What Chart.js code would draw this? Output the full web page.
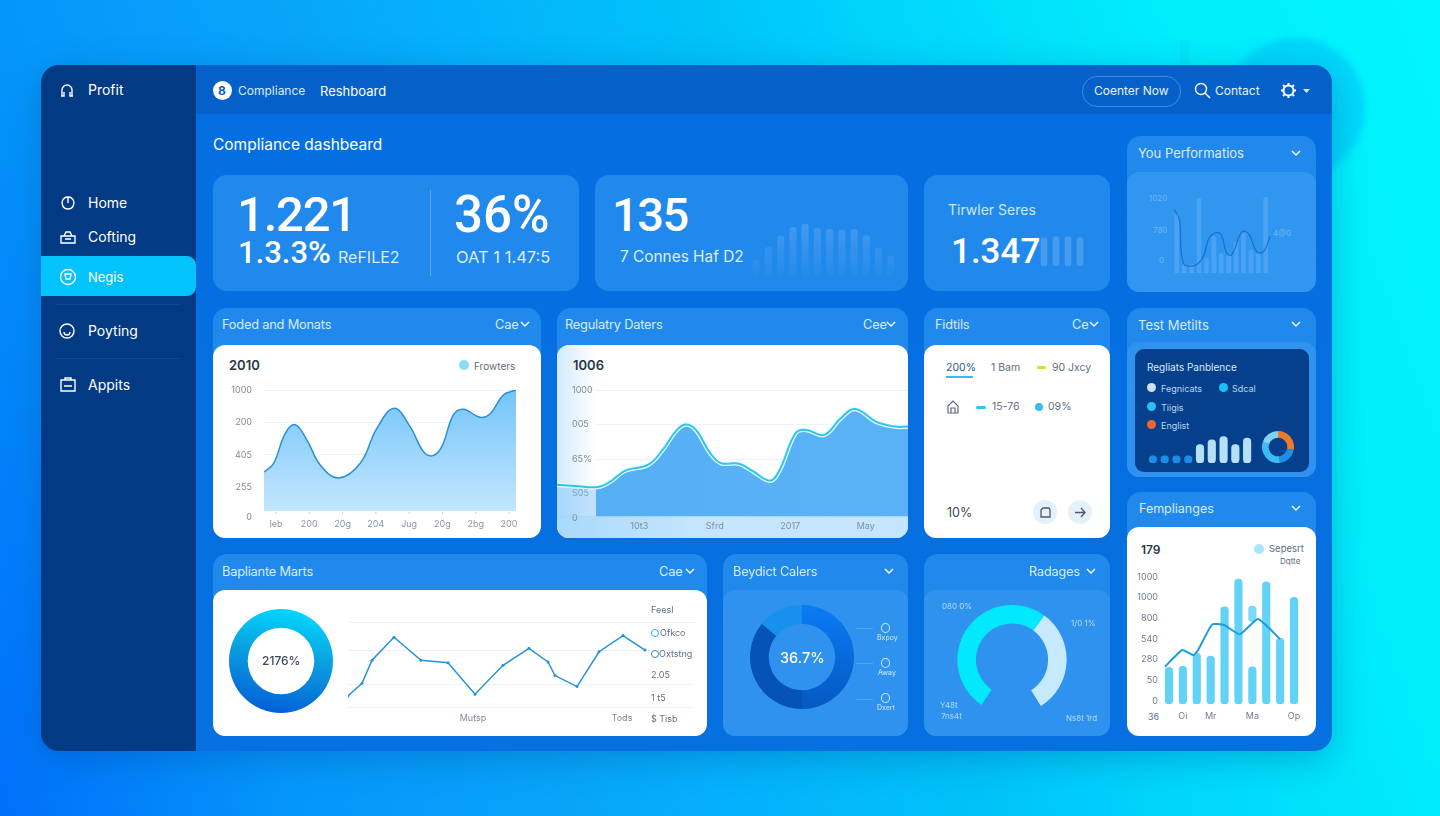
<!DOCTYPE html>
<html>
<head>
<meta charset="utf-8">
<title>Compliance dashboard</title>
<script src="https://cdn.jsdelivr.net/npm/chart.js@4/dist/chart.umd.min.js"></script>
<style>
html, body { margin: 0; padding: 0; width: 1440px; height: 816px; overflow: hidden; }
body {
    position: relative;
    font-family: "Inter", sans-serif;
    background: linear-gradient(70deg, #006ffa 0%, #0596fa 17%, #08a4fa 33%, #05b0fc 42%, #00c4f8 58%, #00d4fc 67%, #00ecfa 83%, #00f6fe 100%);
}
div, span, canvas, svg { position: absolute; }
canvas { display: block; }
.glow { left: 1225px; top: 38px; width: 140px; height: 140px; border-radius: 50%; background: rgba(0,190,250,.5); filter: blur(3px); }
.shadow { left: 41px; top: 65px; width: 1291px; height: 686px; border-radius: 18px; box-shadow: 0 8px 34px rgba(0,50,130,.28); }
.app { left: 41px; top: 65px; width: 1291px; height: 686px; border-radius: 18px; overflow: hidden; background: linear-gradient(180deg, #056fe2, #0670e0); }
.side { left: 0; top: 0; width: 155px; height: 686px; background: #033a84; }
.head { left: 155px; top: 0; width: 1136px; height: 49px; background: #0561c9; }
.active { left: 0; top: 191px; width: 155px; height: 40px; background: #02c3fb; border-radius: 0 9px 9px 0; }
.sep { left: 15px; width: 125px; height: 1px; background: rgba(255,255,255,.07); }
.panel { background: #2289ec; border-radius: 14px; }
.inner { background: #2e92ee; border-radius: 12px; }
.white { background: #fff; border-radius: 12px; overflow: hidden; }
.t { white-space: nowrap; transform: translateY(-50%); color: #fff; line-height: 1; }
.num { font-family: "Roboto", sans-serif; font-weight: 500; line-height: .85; }
.pt { font-size: 12.8px; color: #d8ecfd; letter-spacing: -.2px; }
.dk { color: #5f6f80; }
.tiny { font-size: 8px; color: #b5dcfa; }
.dot { border-radius: 50%; }
.ico { fill: none; stroke: #fff; stroke-width: 1.4; }
</style>
</head>
<body>
<div class="glow"></div>
<div style="left:1180px;top:40px;width:9px;height:26px;background:rgba(0,170,240,.12)"></div>
<div class="shadow"></div>
<div class="app">
    <div class="side"></div>
    <div class="head"></div>
    <div class="active"></div>
    <div class="sep" style="top:239px"></div>
    <div class="sep" style="top:293px"></div>
</div>

<!-- sidebar -->
<svg class="ico" style="left:60px;top:83px" width="14" height="15"><path d="M2 13V7a5 5 0 0 1 10 0v6M1 13h3v-4M13 13h-3v-4"/></svg>
<span class="t" style="left:88px;top:90px;font-size:14px">Profit</span>
<svg class="ico" style="left:60px;top:195px" width="16" height="16"><path d="M7.5 2a6 6 0 1 0 1 0zM8 2v6"/></svg>
<span class="t" style="left:88px;top:203px;font-size:14px">Home</span>
<svg class="ico" style="left:60px;top:229px" width="16" height="16"><path d="M1 7h14v7H1zM4 7l2-4h4l2 4M5 10h6"/></svg>
<span class="t" style="left:88px;top:237px;font-size:14px">Cofting</span>
<svg class="ico" style="left:59px;top:268px" width="18" height="18"><circle cx="9" cy="9" r="7.5"/><path d="M6 6h6l-1 5H7z"/></svg>
<span class="t" style="left:88px;top:277px;font-size:13px">Negis</span>
<svg class="ico" style="left:59px;top:323px" width="16" height="16"><circle cx="8" cy="8" r="7"/><path d="M5 9a3 3 0 0 0 6 0"/></svg>
<span class="t" style="left:88px;top:331px;font-size:14px">Poyting</span>
<svg class="ico" style="left:60px;top:377px" width="16" height="16"><path d="M1 3h14v11H1zM5 3V1h6v2M4 9h8"/></svg>
<span class="t" style="left:88px;top:385px;font-size:14px">Appits</span>

<!-- header -->
<div class="dot" style="left:213px;top:81px;width:19px;height:19px;background:#fff"></div>
<span class="t" style="left:218px;top:91px;font-size:12px;color:#0561c9;font-weight:700">8</span>
<span class="t" style="left:238px;top:91px;font-size:12px;color:#d8ecfd">Compliance</span>
<span class="t" style="left:320px;top:91px;font-size:13px">Reshboard</span>
<div style="left:1082px;top:76px;width:97px;height:29px;border:1px solid rgba(255,255,255,.25);border-radius:15px"></div>
<span class="t" style="left:1094px;top:91px;font-size:12px;color:#e6f3ff">Coenter Now</span>
<svg class="ico" style="left:1194px;top:82px" width="17" height="17"><circle cx="7" cy="7" r="5.5"/><path d="M11 11l5 5"/></svg>
<span class="t" style="left:1215px;top:91px;font-size:12px;color:#e6f3ff">Contact</span>
<svg class="ico" style="left:1281px;top:83px;stroke-width:2" width="15" height="15"><circle cx="7.5" cy="7.5" r="5"/><path d="M7.5 0v2M7.5 13v2M0 7.5h2M13 7.5h2M2 2l1.5 1.5M11.5 11.5L13 13M13 2l-1.5 1.5M3.500 11.500L2 13"/></svg>
<svg style="left:1303px;top:89px" width="7" height="4"><path d="M0 0h7L3.500 4z" fill="#d8ecfd"/></svg>

<span class="t" style="left:213px;top:145px;font-size:15.500px">Compliance dashbeard</span>

<!-- kpi row -->
<div class="panel" style="left:213px;top:175px;width:366px;height:116px"></div>
<div class="panel" style="left:595px;top:175px;width:313px;height:116px"></div>
<div class="panel" style="left:924px;top:175px;width:186px;height:116px"></div>
<span class="t num" style="left:237px;top:215px;font-size:49px;letter-spacing:-1.2px">1.221</span>
<span class="t num" style="left:238px;top:253px;font-size:31px">1.3.3%</span>
<span class="t" style="left:338px;top:257px;font-size:16px;color:#dceefd">ReFILE2</span>
<div style="left:430px;top:190px;width:1px;height:86px;background:rgba(255,255,255,.25)"></div>
<span class="t num" style="left:454px;top:215px;font-size:51px">36%</span>
<span class="t" style="left:456px;top:257px;font-size:16.500px;color:#dceefd">OAT 1 1.47:5</span>
<span class="t num" style="left:612px;top:215px;font-size:47px;letter-spacing:-1.5px">135</span>
<span class="t" style="left:620px;top:257px;font-size:15.400px;color:#dceefd">7 Connes Haf D2</span>
<canvas id="kpiBars" style="left:750px;top:222px"></canvas>
<span class="t" style="left:948px;top:210px;font-size:14px;color:#cfe6fc">Tirwler Seres</span>
<span class="t num" style="left:951px;top:252px;font-size:35px">1.347</span>
<canvas id="kpiBarsSmall" style="left:1038px;top:236px"></canvas>

<!-- area panels -->
<div class="panel" style="left:213px;top:308px;width:328px;height:230px"></div>
<span class="t pt" style="left:222px;top:325px">Foded and Monats</span>
<span class="t pt" style="left:495px;top:325px">Cae</span>
<svg class="ico" style="left:520px;top:321px" width="10" height="7"><path d="M1 1l4 4 4-4"/></svg>
<div class="white" style="left:213px;top:345px;width:328px;height:193px"></div>
<span class="t" style="left:229px;top:365px;font-size:13px;font-weight:600;color:#2b3648">2010</span>
<div class="dot" style="left:459px;top:360px;width:10px;height:10px;background:#8ddafb"></div>
<span class="t dk" style="left:474px;top:366px;font-size:10px">Frowters</span>
<canvas id="areaChart" style="left:225px;top:380px"></canvas>

<div class="panel" style="left:557px;top:308px;width:351px;height:230px"></div>
<span class="t pt" style="left:565px;top:325px">Regulatry Daters</span>
<span class="t pt" style="left:863px;top:325px">Cee</span>
<svg class="ico" style="left:886px;top:321px" width="10" height="7"><path d="M1 1l4 4 4-4"/></svg>
<div class="white" style="left:557px;top:345px;width:351px;height:193px">
    <div style="left:0;top:0;width:39px;height:193px;background:linear-gradient(90deg,rgba(196,228,252,.75),rgba(255,255,255,0))"></div>
    <div style="left:0;top:171px;width:351px;height:22px;background:linear-gradient(90deg,#a9d9fb,#c4e5fd 40%)"></div>
</div>
<span class="t" style="left:573px;top:365px;font-size:13px;font-weight:600;color:#2b3648">1006</span>
<canvas id="regChart" style="left:557px;top:380px"></canvas>

<!-- fidtils -->
<div class="panel" style="left:924px;top:308px;width:186px;height:230px"></div>
<span class="t pt" style="left:935px;top:325px">Fidtils</span>
<span class="t pt" style="left:1072px;top:325px">Ce</span>
<svg class="ico" style="left:1089px;top:321px" width="10" height="7"><path d="M1 1l4 4 4-4"/></svg>
<div class="white" style="left:924px;top:345px;width:186px;height:193px"></div>
<span class="t" style="left:946px;top:368px;font-size:10.500px;color:#2a5a8a">200%</span>
<div style="left:946px;top:376px;width:27px;height:1.500px;background:#35bdf0"></div>
<span class="t dk" style="left:991px;top:368px;font-size:10.500px">1 Bam</span>
<div style="left:1037px;top:366px;width:9px;height:3px;border-radius:2px;background:#c4e820"></div>
<span class="t dk" style="left:1052px;top:368px;font-size:10.500px">90 Jxcy</span>
<svg style="left:947px;top:400px;fill:none;stroke:#5a6b7d;stroke-width:1.200" width="12" height="14"><path d="M1 13V6l5-5 5 5v7zM4 13V8h4v5"/></svg>
<div style="left:976px;top:406px;width:10px;height:3px;border-radius:2px;background:#2cc6f4"></div>
<span class="t dk" style="left:992px;top:407px;font-size:10.500px">15-76</span>
<div class="dot" style="left:1035px;top:403px;width:8px;height:8px;background:#3abcf0"></div>
<span class="t dk" style="left:1048px;top:407px;font-size:10.500px">09%</span>
<span class="t" style="left:947px;top:513px;font-size:12.500px;color:#3a4758">10%</span>
<div class="dot" style="left:1033px;top:500px;width:24px;height:24px;background:#e4f0fb"></div>
<svg style="left:1040px;top:507px;fill:none;stroke:#4a5a6e;stroke-width:1.300" width="11" height="11"><path d="M3 1h6l1 2v7H1V3z"/></svg>
<div class="dot" style="left:1068px;top:500px;width:24px;height:24px;background:#e4f0fb"></div>
<svg style="left:1074px;top:507px;fill:none;stroke:#4a5a6e;stroke-width:1.300" width="12" height="11"><path d="M1 5.500h10M7 1l4 4.500L7 10"/></svg>

<!-- right column -->
<div class="panel" style="left:1127px;top:136px;width:189px;height:156px"></div>
<span class="t" style="left:1138px;top:153px;font-size:13px;color:#d8ecfd">You Performatios</span>
<svg class="ico" style="left:1291px;top:150px" width="10" height="7"><path d="M1 1l4 4 4-4"/></svg>
<div class="inner" style="left:1127px;top:172px;width:189px;height:120px;background:#3096f0"></div>
<span class="t" style="left:1149px;top:198px;font-size:8px;color:#6ab8f5">1020</span>
<span class="t" style="left:1153px;top:230px;font-size:8px;color:#6ab8f5">780</span>
<span class="t" style="left:1159px;top:260px;font-size:8px;color:#6ab8f5">0</span>
<span class="t" style="left:1273px;top:233px;font-size:8px;color:#6ab8f5">4@0</span>
<canvas id="perfChart" style="left:1173px;top:197px"></canvas>

<div class="panel" style="left:1127px;top:308px;width:189px;height:169px"></div>
<span class="t" style="left:1138px;top:325px;font-size:13px;color:#d8ecfd">Test Metilts</span>
<svg class="ico" style="left:1291px;top:321px" width="10" height="7"><path d="M1 1l4 4 4-4"/></svg>
<div class="inner" style="left:1127px;top:342px;width:189px;height:135px"></div>
<div style="left:1135px;top:349px;width:174px;height:123px;background:#063f8c;border-radius:9px"></div>
<span class="t" style="left:1147px;top:367px;font-size:10px;color:#d8ecfd">Regliats Panblence</span>
<div class="dot" style="left:1147px;top:383px;width:9px;height:9px;background:#cfe0ee"></div>
<span class="t" style="left:1161px;top:388px;font-size:9px;color:#b8d8f2">Fegnicats</span>
<div class="dot" style="left:1219px;top:383px;width:9px;height:9px;background:#1cc0f8"></div>
<span class="t" style="left:1232px;top:388px;font-size:9px;color:#b8d8f2">Sdcal</span>
<div class="dot" style="left:1147px;top:402px;width:9px;height:9px;background:#2cc0f5"></div>
<span class="t" style="left:1161px;top:407px;font-size:9px;color:#b8d8f2">Tiigis</span>
<div class="dot" style="left:1147px;top:420px;width:9px;height:9px;background:#f06432"></div>
<span class="t" style="left:1161px;top:425px;font-size:9px;color:#b8d8f2">Englist</span>
<canvas id="metricBars" style="left:1147px;top:436px"></canvas>
<canvas id="metricDonut" style="left:1262px;top:431px"></canvas>

<div class="panel" style="left:1127px;top:492px;width:189px;height:244px"></div>
<span class="t" style="left:1139px;top:509px;font-size:12.500px;color:#d8ecfd">Femplianges</span>
<svg class="ico" style="left:1291px;top:505px" width="10" height="7"><path d="M1 1l4 4 4-4"/></svg>
<div class="white" style="left:1127px;top:527px;width:189px;height:209px"></div>
<span class="t" style="left:1141px;top:550px;font-size:12px;font-weight:600;color:#2b3648">179</span>
<div class="dot" style="left:1254px;top:544px;width:10px;height:10px;background:#a8e4fb"></div>
<span class="t dk" style="left:1269px;top:549px;font-size:9.500px">Sepesrt</span>
<span class="t dk" style="left:1280px;top:561px;font-size:8px">Dqtte</span>
<span class="t dk" style="left:1148px;top:716px;font-size:9px">36</span>
<canvas id="barLine" style="left:1135px;top:570px"></canvas>

<!-- bottom row -->
<div class="panel" style="left:213px;top:554px;width:494px;height:182px"></div>
<span class="t pt" style="left:222px;top:572px">Bapliante Marts</span>
<span class="t pt" style="left:659px;top:572px">Cae</span>
<svg class="ico" style="left:685px;top:568px" width="10" height="7"><path d="M1 1l4 4 4-4"/></svg>
<div class="white" style="left:213px;top:590px;width:494px;height:146px"></div>
<canvas id="shareDonut" style="left:229px;top:609px"></canvas>
<span class="t" style="left:262px;top:661px;font-size:12px;font-weight:500;color:#3a4a5e">2176%</span>
<canvas id="trendLine" style="left:348px;top:612px"></canvas>
<span class="t dk" style="left:651px;top:609px;font-size:9px">Feesl</span>
<div class="dot" style="left:651px;top:629px;width:6px;height:6px;border:1.200px solid #38aef0"></div>
<span class="t dk" style="left:660px;top:632px;font-size:9px">Ofkco</span>
<div class="dot" style="left:651px;top:650px;width:6px;height:6px;border:1.200px solid #3a86b8"></div>
<span class="t dk" style="left:659px;top:653px;font-size:9px">Oxtstng</span>
<span class="t dk" style="left:651px;top:674px;font-size:9px">2.05</span>
<span class="t dk" style="left:651px;top:697px;font-size:9px">1 t5</span>
<span class="t dk" style="left:651px;top:718px;font-size:9px">$ Tisb</span>

<div class="panel" style="left:723px;top:554px;width:185px;height:182px"></div>
<span class="t pt" style="left:733px;top:572px">Beydict Calers</span>
<svg class="ico" style="left:884px;top:568px" width="10" height="7"><path d="M1 1l4 4 4-4"/></svg>
<div class="inner" style="left:723px;top:590px;width:185px;height:146px"></div>
<canvas id="caseDonut" style="left:750px;top:605px"></canvas>
<span class="t" style="left:780px;top:658px;font-size:14.500px;font-weight:500">36.7%</span>
<div style="left:856px;top:628px;width:17px;height:1px;background:rgba(255,255,255,.18)"></div>
<div style="left:856px;top:663px;width:17px;height:1px;background:rgba(255,255,255,.18)"></div>
<div style="left:856px;top:699px;width:17px;height:1px;background:rgba(255,255,255,.18)"></div>
<div class="dot" style="left:881px;top:623px;width:7px;height:8px;border:1px solid #d4ecfd"></div>
<span class="t tiny" style="left:877px;top:637px;font-size:7px;color:#d4ecfd">Bxpoy</span>
<div class="dot" style="left:881px;top:658px;width:7px;height:8px;border:1px solid #d4ecfd"></div>
<span class="t tiny" style="left:878px;top:672px;font-size:7px;color:#d4ecfd">Away</span>
<div class="dot" style="left:881px;top:693px;width:7px;height:8px;border:1px solid #d4ecfd"></div>
<span class="t tiny" style="left:877px;top:707px;font-size:7px;color:#d4ecfd">Dxert</span>

<div class="panel" style="left:924px;top:554px;width:186px;height:182px"></div>
<span class="t pt" style="left:1029px;top:572px">Radages</span>
<svg class="ico" style="left:1086px;top:568px" width="10" height="7"><path d="M1 1l4 4 4-4"/></svg>
<div class="inner" style="left:924px;top:590px;width:186px;height:146px"></div>
<canvas id="gaugeChart" style="left:957px;top:605px"></canvas>
<span class="t tiny" style="left:942px;top:606px">080 0%</span>
<span class="t tiny" style="left:1071px;top:623px">1/0 1%</span>
<span class="t tiny" style="left:940px;top:705px">Y48t</span>
<span class="t tiny" style="left:941px;top:716px">7ns4t</span>
<span class="t tiny" style="left:1066px;top:718px">Ns8t 1rd</span>

<script>
// values
var kpiBarValues = [48, 86, 120, 146, 156, 143, 140, 138, 140, 121, 83, 60];
var kpiSmallValues = [85, 88, 88, 85];

var areaLabels = ["Ieb", "200", "20g", "204", "Jug", "20g", "2bg", "200"];
var areaTickValues = [23, 250, 500, 750, 1000];
var areaTickLabels = ["0", "255", "405", "200", "1000"];
var areaX = [-0.36, -0.07, 0.28, 0.58, 0.93, 1.33, 1.88, 2.53, 3.03, 3.55, 4.03, 4.43, 4.71, 4.98, 5.33, 5.63, 6.13, 6.43, 6.83, 7.21];
var areaY = [369, 436, 667, 733, 615, 423, 323, 436, 705, 859, 718, 526, 495, 564, 808, 851, 790, 815, 962, 1000];

var regLabels = ["10t3", "Sfrd", "2017", "May"];
var regTickValues = [70, 250, 500, 750, 1000];
var regTickLabels = ["0", "S05", "65%", "005", "1000"];
var regX = [-1.09, -0.84, -0.55, -0.38, -0.19, 0.12, 0.31, 0.48, 0.61, 0.75, 0.94, 1.08, 1.32, 1.51, 1.73, 1.85, 2.07, 2.21, 2.45, 2.67, 2.86, 3.15, 3.39, 3.56];
var regY = [312, 302, 295, 336, 413, 457, 565, 698, 749, 710, 541, 469, 464, 408, 341, 408, 686, 710, 674, 795, 862, 766, 734, 734];

var perfBars = [78, 11, 11, 98, 20, 48, 26, 24, 41, 52, 30, 26, 100];
var perfLineX = [-0.31, 0.36, 0.9, 2.47, 3.6, 4.49, 5.84, 6.74, 7.42, 8.76, 9.66, 10.79, 11.69, 12.58];
var perfLineY = [83, 70, 13, 10, 22, 48, 52, 26, 24, 54, 52, 28, 28, 48];

var metricBarValues = [22, 22, 22, 22, 56, 70, 80, 56, 76];
var metricDonutValues = [28, 20, 32, 20];

var barValues = [355, 365, 490, 465, 942, 1210, 361, 1183, 635, 1032];
var barFragmentIndex = 6;
var barFragment = [797, 948];
var barTickValues = [30, 230, 430, 630, 830, 1030, 1230];
var barTickLabels = ["0", "50", "280", "540", "800", "1000", "1000"];
var barXLabels = { 1: "Oi", 3: "Mr", 6: "Ma", 9: "Op" };
var barLineX = [-0.29, 0.96, 1.75, 2.1, 3.11, 3.97, 5.1, 6.41, 7.99];
var barLineY = [361, 523, 474, 523, 771, 765, 674, 823, 629];

var trendX = [0, 14, 24, 46, 73, 100, 127, 155, 181, 200, 207, 229, 251, 275, 297];
var trendY = [13, 28, 55, 82, 55, 52, 15, 49, 69, 53, 37, 24, 65, 84, 67];
var trendGrid = [0, 27, 67, 100];
var trendTicks = [125, 274];
var trendLabels = ["Mutsp", "Tods"];

var shareValues = [100];
var caseValues = [50, 36, 14];
var caseColors = ["#0a7cf4", "#0553b6", "#1791ee"];
var gaugeValues = [62, 38];

Chart.defaults.animation = false;
Chart.defaults.responsive = false;
Chart.defaults.layout.autoPadding = false;
Chart.defaults.font.family = "Inter";
Chart.defaults.plugins.legend.display = false;
Chart.defaults.plugins.tooltip.enabled = false;

function zip(xs, ys) {
    return xs.map(function (x, i) { return { x: x, y: ys[i] }; });
}

function setSize(id, w, h) {
    var c = document.getElementById(id);
    c.width = w;
    c.height = h;
    c.style.width = w + "px";
    c.style.height = h + "px";
    return c;
}

function vertical(color1, color2) {
    return function (context) {
        var a = context.chart.chartArea;
        if (!a) return color1;
        var g = context.chart.ctx.createLinearGradient(0, a.top, 0, a.bottom);
        g.addColorStop(0, color1);
        g.addColorStop(1, color2);
        return g;
    };
}

// keeps the plot exactly where it is meant to be, labels may hang over
function fixWidth(w) {
    return function (s) { s.width = w; s.paddingTop = 0; s.paddingBottom = 0; };
}
function fixHeight(h) {
    return function (s) { s.height = h; s.paddingLeft = 0; s.paddingRight = 0; };
}
function tickList(values) {
    return function (s) { s.ticks = values.map(function (v) { return { value: v }; }); };
}

// plain bars with no axes, used for the small sparkline cards
function miniBars(id, w, h, values, max, thickness, color) {
    return new Chart(setSize(id, w, h), {
        type: "bar",
        data: {
            labels: values.map(function (v, i) { return i; }),
            datasets: [{ data: values, backgroundColor: color, barThickness: thickness, borderRadius: 4, borderSkipped: false }]
        },
        options: { scales: { x: { display: false }, y: { display: false, min: 0, max: max } } }
    });
}

miniBars("kpiBars", 147, 54, kpiBarValues, 162, 6.5, vertical("rgba(255,255,255,.15)", "rgba(255,255,255,.02)"));
miniBars("kpiBarsSmall", 48, 30, kpiSmallValues, 90, 6, "rgba(255,255,255,.16)");
miniBars("metricBars", 106, 27, metricBarValues, 82, 7.5, metricBarValues.map(function (v) {
    return v < 30 ? "#1a8ee8" : "#b6dff8";
}));

// little tick marks on the first area chart sit above the axis labels
var areaMarks = {
    id: "areaMarks",
    afterDraw: function (chart) {
        var x = chart.scales.x, ctx = chart.ctx;
        ctx.save();
        ctx.strokeStyle = "#c5d0da";
        x.ticks.forEach(function (t) {
            var px = x.getPixelForValue(t.value);
            ctx.beginPath();
            ctx.moveTo(px, chart.chartArea.bottom - 5);
            ctx.lineTo(px, chart.chartArea.bottom - 3);
            ctx.stroke();
        });
        ctx.restore();
    }
};

new Chart(setSize("areaChart", 295, 155), {
    type: "line",
    plugins: [areaMarks],
    data: {
        datasets: [{
            data: zip(areaX, areaY),
            borderColor: "#2a8fd8",
            borderWidth: 1.5,
            pointRadius: 0,
            tension: 0.4,
            fill: { value: 69 },
            backgroundColor: vertical("#74c4fa", "#c6e8fe")
        }]
    },
    options: {
        layout: { padding: { top: 10, right: 4 } },
        scales: {
            x: {
                type: "linear", min: -0.36, max: 7.21,
                grid: { display: false, drawTicks: false }, border: { display: false },
                afterFit: fixHeight(18),
                afterBuildTicks: tickList(areaLabels.map(function (l, i) { return i; })),
                ticks: {
                    autoSkip: false, maxRotation: 0, padding: 2,
                    color: "#8a96a3", font: { size: 9 },
                    callback: function (v) { return areaLabels[v]; }
                }
            },
            y: {
                min: 23, max: 1000,
                border: { display: false },
                afterFit: fixWidth(39),
                afterBuildTicks: tickList(areaTickValues),
                grid: { drawTicks: false, color: function (c) { return c.index > 0 ? "#eff3f7" : "transparent"; } },
                ticks: {
                    autoSkip: false, padding: 12,
                    color: "#7f8b98", font: { size: 9 },
                    callback: function (v, i) { return areaTickLabels[i]; }
                }
            }
        }
    }
});

// grid only starts right of the pale strip
var regGrid = {
    id: "regGrid",
    beforeDatasetsDraw: function (chart) {
        var y = chart.scales.y, ctx = chart.ctx;
        ctx.save();
        ctx.strokeStyle = "#eef2f6";
        y.ticks.forEach(function (t, i) {
            if (i === 0) return;
            var py = Math.round(y.getPixelForValue(t.value)) + 0.5;
            ctx.beginPath();
            ctx.moveTo(39, py);
            ctx.lineTo(chart.chartArea.right, py);
            ctx.stroke();
        });
        ctx.restore();
    }
};

function regFill(context) {
    var a = context.chart.chartArea;
    if (!a) return "#58b0f5";
    var g = context.chart.ctx.createLinearGradient(a.left, 0, a.right, 0);
    var stop = 39 / (a.right - a.left);
    g.addColorStop(0, "rgba(120,190,250,.45)");
    g.addColorStop(stop, "rgba(120,190,250,.45)");
    g.addColorStop(stop, "#56aff5");
    g.addColorStop(1, "#5ab2f6");
    return g;
}

new Chart(setSize("regChart", 351, 156), {
    type: "line",
    plugins: [regGrid],
    data: {
        datasets: [
            {
                data: zip(regX, regY),
                borderColor: "#2cc6ee",
                borderWidth: 2,
                pointRadius: 0,
                tension: 0.4,
                order: 1
            },
            {
                data: zip(regX, regY),
                borderColor: "#eafaff",
                borderWidth: 4.5,
                pointRadius: 0,
                tension: 0.4,
                fill: { value: 82 },
                backgroundColor: regFill,
                order: 2
            }
        ]
    },
    options: {
        layout: { padding: { top: 10 } },
        scales: {
            x: {
                type: "linear", min: -1.09, max: 3.56,
                grid: { display: false, drawTicks: false }, border: { display: false },
                afterFit: fixHeight(18),
                afterBuildTicks: tickList(regLabels.map(function (l, i) { return i; })),
                ticks: {
                    autoSkip: false, maxRotation: 0, padding: 3,
                    color: "#7f8f9f", font: { size: 9 },
                    callback: function (v) { return regLabels[v]; }
                }
            },
            y: {
                min: 70, max: 1000,
                border: { display: false },
                grid: { display: false, drawTicks: false },
                afterFit: fixWidth(0),
                afterBuildTicks: tickList(regTickValues),
                ticks: {
                    mirror: true, autoSkip: false, padding: 15,
                    color: "#7f8b98", font: { size: 9 },
                    callback: function (v, i) { return regTickLabels[i]; }
                }
            }
        }
    }
});

new Chart(setSize("perfChart", 98, 76), {
    data: {
        datasets: [
            {
                type: "line",
                data: zip(perfLineX, perfLineY),
                borderColor: "rgba(18,92,190,.7)",
                borderWidth: 1.2,
                pointRadius: 0,
                tension: 0.4,
                clip: false,
                order: 1
            },
            {
                type: "bar",
                data: perfBars.map(function (v, i) { return { x: i, y: v }; }),
                backgroundColor: "rgba(255,255,255,.13)",
                barThickness: 4,
                borderRadius: 2,
                order: 2
            }
        ]
    },
    options: {
        scales: {
            x: { type: "linear", display: false, offset: false, min: -0.5, max: 12.7 },
            y: { display: false, min: 0, max: 100 }
        }
    }
});

new Chart(setSize("metricDonut", 32, 32), {
    type: "doughnut",
    data: {
        datasets: [{
            data: metricDonutValues,
            backgroundColor: ["#f07a2c", "#1f8fe4", "#3cbcf2", "#7fd4f8"],
            borderWidth: 0
        }]
    },
    options: { cutout: "58%" }
});

new Chart(setSize("barLine", 170, 152), {
    data: {
        datasets: [
            {
                type: "line",
                data: zip(barLineX, barLineY),
                borderColor: "#1d9be0",
                borderWidth: 2,
                pointRadius: 0,
                tension: 0.15,
                order: 1
            },
            {
                type: "bar",
                data: barValues.map(function (v, i) { return { x: i, y: v }; }),
                backgroundColor: "#62d2f6",
                barThickness: 7.5,
                borderRadius: 4,
                borderSkipped: false,
                order: 2,
                grouped: false
            },
            {
                type: "bar",
                data: [{ x: barFragmentIndex, y: barFragment }],
                backgroundColor: "#7cdaf7",
                barThickness: 7.5,
                borderRadius: 4,
                borderSkipped: false,
                order: 3,
                grouped: false
            }
        ]
    },
    options: {
        layout: { padding: { top: 7, right: 5 } },
        scales: {
            x: {
                type: "linear", offset: false, min: -0.43, max: 9.43,
                grid: { display: false, drawTicks: false }, border: { display: false },
                afterFit: fixHeight(18),
                afterBuildTicks: tickList(Object.keys(barXLabels).map(Number)),
                ticks: {
                    autoSkip: false, maxRotation: 0, padding: 7,
                    color: "#6f7d8b", font: { size: 9 },
                    callback: function (v) { return barXLabels[v]; }
                }
            },
            y: {
                min: 0, max: 1230,
                border: { display: false }, grid: { display: false, drawTicks: false },
                afterFit: fixWidth(28),
                afterBuildTicks: tickList(barTickValues),
                ticks: {
                    autoSkip: false, padding: 5,
                    color: "#6f7d8b", font: { size: 9 },
                    callback: function (v, i) { return barTickLabels[i]; }
                }
            }
        }
    }
});

new Chart(setSize("shareDonut", 104, 104), {
    type: "doughnut",
    data: {
        datasets: [{
            data: shareValues,
            borderWidth: 0,
            backgroundColor: function (context) {
                var g = context.chart.ctx.createLinearGradient(66, 0, 46, 104);
                g.addColorStop(0, "#02d9fe");
                g.addColorStop(0.45, "#0b9fdf");
                g.addColorStop(1, "#0360d8");
                return g;
            }
        }]
    },
    options: { cutout: "64%" }
});

new Chart(setSize("trendLine", 346, 115), {
    type: "line",
    data: {
        datasets: [{
            data: zip(trendX, trendY),
            borderColor: "#2593d8",
            borderWidth: 1.5,
            pointRadius: 1.5,
            pointBackgroundColor: "#2593d8",
            pointBorderWidth: 0,
            tension: 0
        }]
    },
    options: {
        layout: { padding: { top: 10 } },
        scales: {
            x: {
                type: "linear", min: 0, max: 346,
                grid: { display: false, drawTicks: false }, border: { display: false },
                afterFit: fixHeight(20),
                afterBuildTicks: tickList(trendTicks),
                ticks: {
                    autoSkip: false, maxRotation: 0, padding: 6,
                    color: "#7f8b98", font: { size: 9 },
                    callback: function (v) { return trendLabels[trendTicks.indexOf(v)]; }
                }
            },
            y: {
                min: 0, max: 100,
                border: { display: false },
                afterFit: fixWidth(0),
                afterBuildTicks: tickList(trendGrid),
                grid: { drawTicks: false, color: "#edf1f5" },
                ticks: { display: false }
            }
        }
    }
});

new Chart(setSize("caseDonut", 104, 104), {
    type: "doughnut",
    data: {
        datasets: [{
            data: caseValues,
            borderWidth: 0,
            backgroundColor: function (context) {
                if (context.dataIndex !== 0) return caseColors[context.dataIndex];
                var g = context.chart.ctx.createLinearGradient(0, 0, 0, 104);
                g.addColorStop(0, caseColors[0]);
                g.addColorStop(1, "#0558c2");
                return g;
            }
        }]
    },
    options: { cutout: "64%" }
});

new Chart(setSize("gaugeChart", 110, 101), {
    type: "doughnut",
    data: {
        datasets: [{
            data: gaugeValues,
            borderWidth: 0,
            backgroundColor: ["#02e8fd", "#c6eafc"]
        }]
    },
    options: { rotation: 214, circumference: 294, cutout: "66%" }
});
</script>
</body>
</html>
